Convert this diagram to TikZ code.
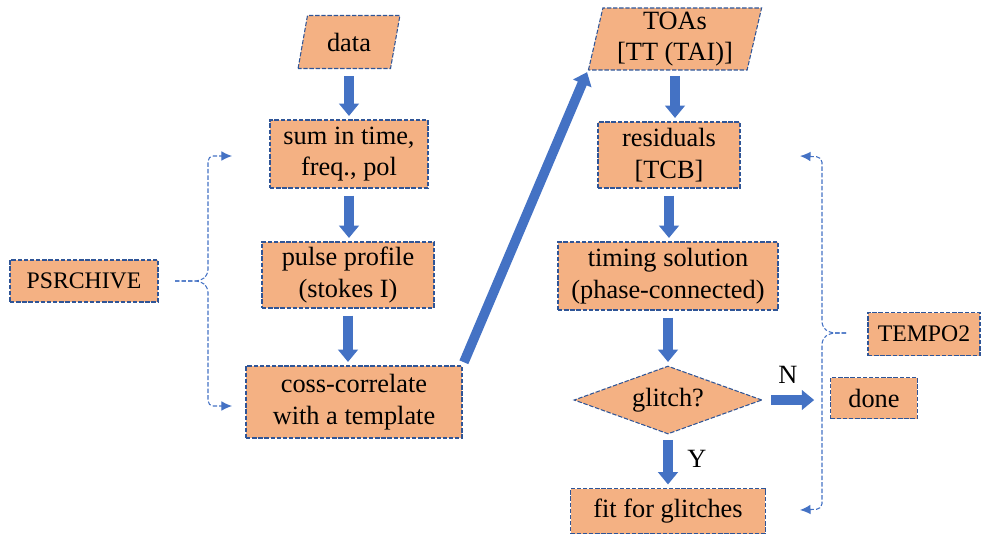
\documentclass[tikz,border=0pt]{standalone}
\usepackage{fontspec}
\setmainfont{Liberation Serif}
\usetikzlibrary{shapes.geometric,arrows.meta}
\definecolor{boxfill}{HTML}{F4B183}
\definecolor{boxline}{HTML}{2F5597}
\definecolor{arrowblue}{HTML}{4472C4}
\begin{document}
\begin{tikzpicture}[x=0.02cm,y=-0.02cm,
	box/.style={draw=boxline,fill=boxfill,dash pattern=on 2.5pt off 1pt,line width=0.6pt,
		align=center,inner sep=0pt,font=\fontsize{15}{18}\selectfont},
	iobox/.style={box,trapezium,trapezium stretches=true,trapezium left angle=75,trapezium right angle=105},
	decision/.style={box,diamond,aspect=2.76},
	toolbox/.style={box,font=\fontsize{13.5}{16}\selectfont},
	fat/.style={arrowblue,line width=5.5pt,-{Triangle[width=11pt,length=7pt]}},
	brace/.style={arrowblue,dash pattern=on 2.5pt off 1.2pt,line width=0.6pt,rounded corners=3pt,-{Latex[length=6pt,width=5.5pt]}},
	lbl/.style={font=\fontsize{15}{18}\selectfont}]
	\useasboundingbox (0,0) rectangle (981,535);
	
	% left column
	\node[iobox,minimum width=2.04cm,minimum height=1.06cm] (data) at (349,42) {data};
	\node[box,minimum width=3.16cm,minimum height=1.36cm] (sum) at (349,154) {sum in time,\\freq., pol};
	\node[box,minimum width=3.44cm,minimum height=1.32cm] (pulse) at (348,275) {pulse profile\\(stokes I)};
	\node[box,minimum width=4.32cm,minimum height=1.44cm] (coss) at (354,402) {coss-correlate\\with a template};
	
	% right column
	\node[iobox,trapezium left angle=78,trapezium right angle=102,minimum width=3.48cm,minimum height=1.24cm] (toas) at (675,39) {TOAs\\{[TT (TAI)]}};
	\node[box,minimum width=2.84cm,minimum height=1.32cm] (res) at (669,155) {residuals\\{[TCB]}};
	\node[box,minimum width=4.4cm,minimum height=1.36cm] (timing) at (668,276) {timing solution\\(phase-connected)};
	\node[decision,minimum width=3.76cm,minimum height=1.36cm] (glitch) at (668,400) {glitch?};
	\node[box,minimum width=3.9cm,minimum height=0.9cm] (fit) at (668,511) {fit for glitches};
	\node[box,minimum width=1.74cm,minimum height=0.82cm] (done) at (874,398) {done};
	
	% tools
	\node[toolbox,minimum width=2.96cm,minimum height=0.84cm] (psr) at (84,281) {PSRCHIVE};
	\node[toolbox,minimum width=2.24cm,minimum height=0.86cm] (tempo) at (924,334) {TEMPO2};
	
	% fat arrows
	\draw[fat,shorten <=4pt,shorten >=2pt] (data.south) -- (data.south |- sum.north);
	\draw[fat,shorten <=4pt,shorten >=2pt] (sum.south) -- (sum.south |- pulse.north);
	\draw[fat,shorten <=4pt,shorten >=2pt] (pulse.south) -- (pulse.south |- coss.north);
	\draw[fat,shorten <=2pt,shorten >=1pt] (coss.north east) -- (toas.bottom left corner);
	\draw[fat,shorten <=3pt,shorten >=2pt] (toas.south) -- (toas.south |- res.north);
	\draw[fat,shorten <=4pt,shorten >=2pt] (res.south) -- (res.south |- timing.north);
	\draw[fat,shorten <=4pt,shorten >=2pt] (timing.south) -- (timing.south |- glitch.north);
	\draw[fat,shorten <=3pt,shorten >=2pt] (glitch.south) -- (glitch.south |- fit.north);
	\draw[fat,shorten <=5pt,shorten >=9pt] (glitch.east) -- (glitch.east -| done.west);
	\node[lbl] (no) at (788,375) {N};
	\node[lbl] (yes) at (697,459) {Y};
	
	% braces
	\coordinate (lbin) at (175,281);
	\coordinate (lbtop) at (232,156);
	\coordinate (lbbot) at (232,406);
	\draw[brace] (lbin) -- (200,281) -- (208,275) -- (208,156) -- (lbtop);
	\draw[brace] (lbin) -- (200,281) -- (208,287) -- (208,406) -- (lbbot);
	\coordinate (rbin) at (846,333);
	\coordinate (rbtop) at (800,156);
	\coordinate (rbbot) at (800,510);
	\draw[brace] (rbin) -- (830,333) -- (822,327) -- (822,157) -- (rbtop);
	\draw[brace] (rbin) -- (830,333) -- (822,339) -- (822,509) -- (rbbot);
\end{tikzpicture}
\end{document}
